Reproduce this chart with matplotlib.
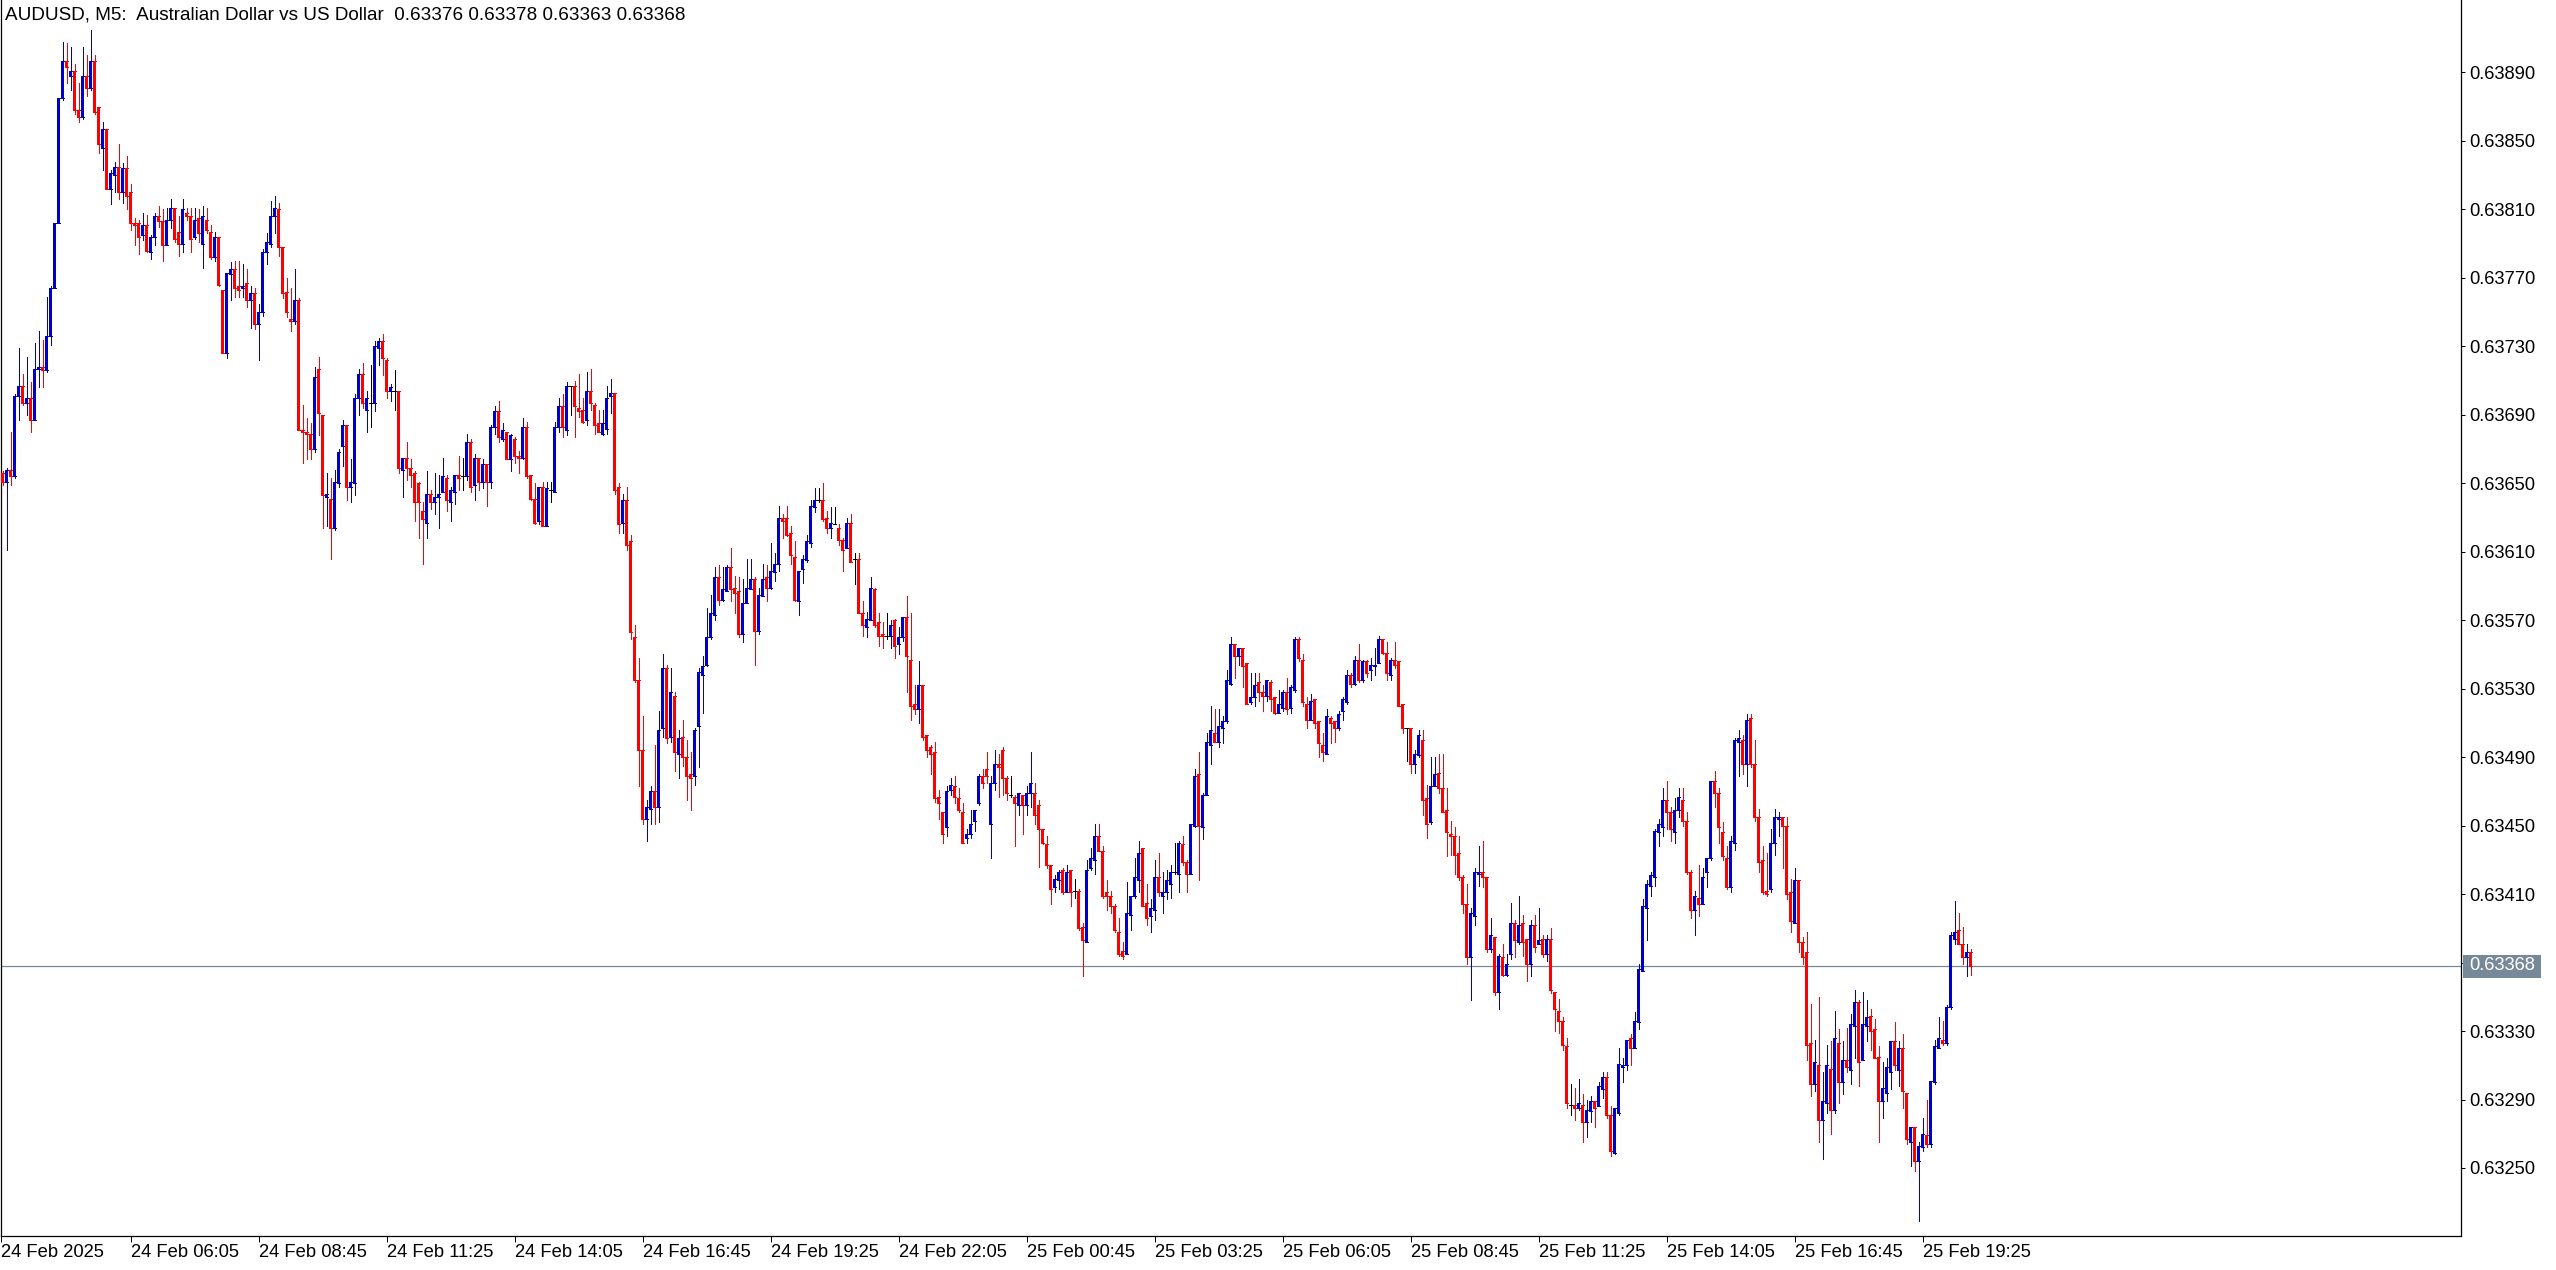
import numpy as np
import matplotlib.pyplot as plt
from matplotlib.patches import Rectangle

# AUDUSD M5 candles, prices as 1e-5 steps above 0.63000
opens = [
    656, 651, 658, 654, 701, 707, 697, 700, 687, 717, 718, 716, 736, 764, 802, 875, 897, 888, 891, 868,
    864, 888, 881, 897, 870, 846, 857, 822, 830, 835, 820, 834, 820, 802, 802, 795, 801, 785, 794, 806,
    803, 789, 804, 811, 797, 790, 808, 806, 794, 805, 790, 804, 797, 782, 794, 763, 726, 772, 775, 765,
    764, 767, 757, 761, 743, 750, 785, 790, 806, 810, 788, 762, 746, 745, 757, 681, 680, 679, 670, 717,
    690, 642, 641, 624, 650, 672, 684, 648, 650, 700, 714, 693, 697, 697, 729, 733, 722, 704, 704, 704,
    658, 665, 659, 656, 650, 634, 627, 644, 639, 642, 645, 653, 639, 645, 655, 654, 654, 674, 649, 665,
    651, 661, 651, 683, 692, 676, 680, 664, 676, 666, 665, 683, 655, 641, 628, 648, 625, 646, 645, 683,
    695, 681, 707, 707, 694, 693, 687, 704, 696, 685, 679, 682, 701, 703, 648, 627, 640, 616, 560, 535,
    494, 454, 460, 470, 461, 507, 542, 502, 526, 492, 502, 490, 480, 479, 508, 538, 544, 560, 573, 595,
    582, 587, 601, 589, 587, 562, 580, 588, 594, 564, 584, 595, 589, 598, 603, 630, 630, 621, 607, 581,
    600, 605, 615, 636, 640, 640, 630, 624, 626, 624, 617, 612, 627, 606, 606, 574, 566, 570, 588, 569,
    562, 561, 561, 570, 556, 560, 572, 547, 521, 518, 532, 503, 496, 493, 467, 458, 449, 471, 473, 466,
    458, 443, 445, 453, 463, 479, 483, 451, 475, 486, 494, 478, 468, 467, 462, 468, 462, 469, 469, 462,
    448, 439, 427, 414, 418, 424, 411, 424, 412, 412, 391, 382, 425, 430, 444, 435, 411, 409, 403, 388,
    377, 375, 398, 409, 418, 437, 405, 397, 401, 420, 409, 411, 416, 423, 422, 439, 429, 422, 450, 480,
    449, 468, 497, 504, 499, 507, 511, 533, 556, 549, 554, 545, 522, 525, 534, 528, 526, 534, 525, 516,
    519, 528, 519, 529, 559, 547, 521, 512, 524, 511, 497, 492, 513, 511, 507, 517, 522, 538, 533, 547,
    535, 546, 541, 543, 545, 559, 551, 538, 547, 546, 521, 507, 507, 486, 491, 500, 466, 452, 473, 481,
    472, 459, 445, 444, 434, 420, 404, 373, 397, 422, 423, 420, 378, 385, 353, 373, 363, 375, 393, 382,
    393, 384, 369, 392, 381, 384, 375, 384, 353, 342, 336, 321, 287, 287, 285, 287, 277, 283, 289, 286,
    296, 303, 281, 259, 282, 309, 310, 326, 320, 335, 365, 402, 415, 420, 446, 449, 465, 458, 446, 459,
    465, 453, 423, 401, 408, 404, 423, 431, 476, 469, 446, 431, 414, 440, 499, 500, 486, 513, 486, 455,
    430, 412, 413, 440, 454, 455, 450, 411, 393, 418, 382, 376, 323, 299, 310, 278, 288, 308, 284, 323,
    300, 313, 307, 333, 347, 313, 333, 339, 331, 315, 289, 294, 306, 324, 307, 320, 294, 265, 274, 254,
    262, 269, 264, 300, 320, 325, 323, 344, 384, 389, 381, 373, 376,
]
highs = [
    657, 659, 680, 702, 729, 714, 724, 709, 732, 739, 734, 759, 765, 802, 875, 908, 907, 905, 895, 884,
    905, 900, 915, 900, 870, 861, 857, 833, 838, 848, 837, 841, 825, 805, 804, 808, 807, 795, 808, 812,
    810, 811, 816, 811, 806, 816, 811, 811, 811, 810, 812, 811, 801, 797, 794, 763, 773, 779, 780, 780,
    778, 775, 765, 764, 755, 787, 796, 815, 818, 814, 788, 770, 764, 775, 758, 696, 688, 685, 718, 724,
    690, 656, 653, 658, 670, 687, 684, 664, 702, 717, 720, 704, 719, 733, 735, 737, 723, 708, 716, 704,
    665, 674, 664, 657, 651, 639, 657, 646, 656, 655, 665, 655, 648, 655, 666, 665, 679, 676, 667, 665,
    664, 661, 684, 695, 698, 685, 680, 679, 677, 669, 688, 686, 655, 650, 648, 651, 651, 651, 686, 700,
    702, 709, 707, 710, 714, 700, 715, 717, 697, 693, 693, 707, 711, 703, 650, 644, 648, 620, 567, 548,
    514, 465, 473, 497, 517, 550, 544, 542, 528, 506, 512, 500, 493, 507, 542, 549, 577, 585, 601, 602,
    601, 602, 612, 596, 595, 594, 606, 606, 595, 589, 603, 602, 615, 609, 637, 632, 637, 625, 616, 599,
    608, 620, 640, 647, 647, 650, 634, 636, 636, 626, 618, 630, 632, 609, 609, 581, 575, 595, 589, 574,
    569, 574, 570, 571, 566, 572, 584, 574, 532, 546, 532, 503, 497, 499, 471, 458, 473, 478, 479, 472,
    463, 448, 459, 459, 480, 483, 493, 479, 494, 492, 496, 479, 479, 468, 469, 468, 473, 493, 475, 465,
    448, 444, 427, 421, 424, 425, 427, 424, 419, 413, 393, 430, 437, 451, 451, 438, 418, 412, 404, 396,
    382, 417, 409, 431, 441, 437, 416, 407, 430, 434, 423, 424, 427, 440, 441, 444, 430, 451, 483, 493,
    469, 504, 520, 518, 518, 514, 541, 560, 556, 554, 554, 545, 539, 539, 539, 532, 535, 535, 525, 529,
    529, 536, 532, 560, 560, 550, 525, 527, 524, 511, 504, 518, 514, 511, 517, 525, 541, 539, 549, 556,
    547, 547, 548, 554, 561, 559, 557, 548, 557, 546, 521, 507, 507, 494, 506, 506, 474, 490, 490, 492,
    492, 472, 453, 449, 444, 421, 416, 402, 425, 438, 441, 420, 396, 385, 375, 381, 375, 405, 395, 409,
    398, 384, 395, 398, 402, 386, 386, 390, 353, 349, 338, 326, 299, 297, 302, 293, 290, 292, 289, 300,
    306, 306, 286, 285, 320, 314, 325, 328, 341, 369, 407, 418, 423, 448, 454, 472, 476, 461, 466, 472,
    472, 458, 424, 412, 427, 425, 431, 476, 482, 472, 452, 438, 444, 501, 506, 503, 515, 515, 500, 460,
    438, 434, 448, 460, 458, 455, 455, 419, 425, 418, 385, 388, 346, 325, 350, 306, 322, 324, 342, 331,
    324, 332, 340, 354, 348, 353, 348, 343, 337, 321, 312, 314, 324, 335, 324, 328, 294, 274, 274, 265,
    279, 290, 301, 325, 338, 336, 345, 388, 406, 399, 391, 381, 378,
]
lows = [
    649, 611, 649, 653, 687, 696, 690, 680, 687, 706, 706, 715, 731, 764, 802, 874, 884, 880, 866, 861,
    863, 876, 880, 866, 843, 833, 822, 813, 820, 816, 814, 810, 798, 789, 784, 792, 785, 781, 789, 800,
    780, 789, 799, 791, 783, 785, 804, 785, 793, 791, 776, 796, 781, 780, 765, 726, 723, 757, 759, 759,
    759, 753, 741, 740, 722, 748, 778, 788, 796, 783, 758, 747, 739, 743, 681, 662, 664, 664, 668, 678,
    624, 625, 606, 623, 648, 660, 640, 639, 643, 690, 694, 680, 683, 692, 719, 713, 700, 698, 693, 656,
    642, 652, 648, 628, 618, 603, 618, 635, 632, 624, 645, 634, 628, 638, 646, 646, 652, 645, 640, 646,
    647, 637, 647, 679, 674, 675, 664, 657, 662, 656, 664, 653, 640, 626, 626, 625, 625, 639, 645, 680,
    677, 678, 690, 677, 689, 685, 684, 693, 679, 680, 678, 679, 691, 644, 621, 621, 611, 559, 534, 473,
    451, 441, 451, 451, 452, 502, 498, 499, 482, 478, 485, 465, 459, 474, 484, 516, 543, 559, 570, 579,
    581, 587, 581, 574, 560, 557, 580, 588, 544, 562, 584, 581, 588, 593, 599, 618, 619, 603, 581, 573,
    592, 604, 613, 633, 639, 628, 621, 618, 626, 614, 599, 612, 604, 591, 574, 561, 560, 570, 566, 555,
    554, 559, 554, 548, 550, 558, 528, 512, 515, 510, 500, 490, 480, 464, 454, 440, 444, 468, 463, 458,
    440, 440, 443, 447, 462, 472, 475, 431, 471, 467, 468, 465, 467, 438, 456, 445, 456, 461, 451, 426,
    439, 425, 404, 411, 413, 410, 411, 403, 408, 389, 362, 382, 424, 422, 435, 408, 401, 399, 388, 374,
    372, 375, 389, 408, 411, 403, 392, 388, 395, 409, 399, 407, 408, 422, 411, 427, 411, 422, 449, 418,
    442, 468, 486, 499, 496, 498, 510, 532, 536, 544, 531, 521, 521, 520, 523, 517, 523, 517, 515, 516,
    517, 515, 516, 528, 546, 520, 507, 512, 507, 490, 488, 492, 498, 499, 506, 512, 521, 531, 532, 534,
    534, 537, 535, 538, 545, 550, 535, 535, 542, 520, 504, 488, 481, 481, 490, 456, 443, 451, 473, 469,
    458, 432, 433, 422, 418, 399, 369, 348, 392, 415, 414, 376, 376, 351, 343, 362, 362, 372, 373, 381,
    374, 359, 362, 376, 381, 373, 371, 352, 330, 329, 319, 285, 281, 278, 284, 265, 268, 277, 274, 286,
    291, 279, 257, 258, 281, 300, 307, 310, 320, 331, 365, 383, 409, 415, 438, 444, 448, 441, 440, 455,
    450, 422, 396, 386, 397, 404, 414, 430, 461, 440, 430, 413, 411, 436, 479, 480, 473, 484, 453, 423,
    410, 409, 411, 433, 444, 425, 407, 388, 393, 376, 369, 313, 292, 295, 265, 255, 282, 270, 282, 288,
    293, 306, 299, 314, 298, 313, 324, 319, 314, 265, 279, 289, 296, 307, 298, 285, 264, 251, 248, 219,
    260, 262, 262, 299, 320, 322, 322, 343, 381, 381, 369, 362, 363,
]
closes = [
    651, 658, 654, 701, 707, 697, 700, 687, 717, 718, 716, 736, 764, 802, 875, 897, 893, 891, 868, 864,
    888, 881, 897, 867, 848, 857, 822, 831, 835, 820, 834, 818, 802, 801, 794, 801, 786, 794, 806, 803,
    789, 804, 811, 793, 790, 810, 806, 793, 804, 796, 806, 798, 782, 794, 766, 726, 773, 775, 764, 763,
    765, 757, 761, 743, 750, 785, 791, 806, 811, 788, 761, 750, 745, 757, 681, 680, 679, 670, 712, 691,
    643, 644, 624, 651, 668, 684, 648, 651, 700, 714, 697, 700, 697, 730, 733, 723, 704, 706, 704, 659,
    665, 659, 655, 639, 639, 629, 644, 639, 642, 644, 654, 640, 646, 655, 653, 654, 674, 648, 665, 651,
    661, 651, 683, 692, 677, 681, 664, 678, 666, 665, 683, 654, 641, 627, 648, 625, 647, 646, 683, 695,
    683, 707, 707, 695, 692, 686, 704, 697, 684, 680, 685, 700, 703, 646, 626, 640, 614, 563, 535, 494,
    454, 461, 470, 461, 506, 542, 501, 528, 493, 501, 490, 479, 478, 506, 540, 543, 560, 574, 595, 582,
    588, 601, 588, 586, 562, 580, 589, 594, 564, 585, 594, 589, 599, 603, 630, 628, 620, 608, 582, 599,
    606, 616, 637, 640, 640, 629, 624, 627, 626, 617, 611, 627, 604, 606, 574, 567, 571, 589, 567, 561,
    561, 561, 567, 555, 560, 572, 549, 520, 518, 532, 502, 494, 492, 466, 463, 445, 470, 474, 467, 459,
    440, 445, 451, 459, 479, 475, 479, 475, 486, 484, 478, 469, 468, 463, 469, 462, 469, 475, 456, 448,
    440, 427, 413, 419, 423, 411, 423, 411, 412, 390, 383, 424, 431, 444, 435, 409, 409, 403, 389, 375,
    374, 399, 409, 420, 434, 403, 396, 402, 420, 411, 411, 418, 423, 423, 440, 429, 422, 451, 479, 450,
    468, 499, 506, 499, 508, 511, 535, 556, 549, 554, 543, 521, 525, 532, 528, 526, 535, 524, 516, 521,
    528, 518, 531, 559, 548, 522, 512, 523, 510, 498, 493, 514, 510, 507, 515, 524, 538, 533, 547, 535,
    546, 539, 544, 544, 559, 551, 539, 547, 544, 520, 507, 507, 486, 492, 503, 465, 451, 473, 480, 472,
    458, 446, 444, 433, 420, 404, 373, 399, 423, 423, 420, 378, 386, 353, 374, 363, 369, 393, 383, 392,
    382, 369, 392, 379, 383, 375, 384, 354, 343, 336, 322, 288, 287, 285, 288, 277, 284, 289, 285, 298,
    303, 281, 260, 285, 311, 310, 325, 320, 336, 366, 403, 416, 421, 447, 451, 465, 458, 448, 459, 467,
    453, 423, 401, 409, 404, 420, 431, 476, 469, 449, 432, 414, 441, 500, 501, 486, 512, 486, 455, 429,
    411, 410, 440, 455, 455, 450, 410, 394, 418, 382, 373, 322, 299, 312, 278, 289, 310, 284, 326, 300,
    313, 309, 334, 347, 312, 334, 338, 330, 314, 289, 297, 309, 324, 310, 320, 295, 267, 274, 254, 263,
    270, 264, 301, 321, 326, 323, 344, 386, 388, 381, 373, 376, 368,
]

time_labels = ['24 Feb 2025', '24 Feb 06:05', '24 Feb 08:45', '24 Feb 11:25', '24 Feb 14:05',
               '24 Feb 16:45', '24 Feb 19:25', '24 Feb 22:05', '25 Feb 00:45', '25 Feb 03:25',
               '25 Feb 06:05', '25 Feb 08:45', '25 Feb 11:25', '25 Feb 14:05', '25 Feb 16:45',
               '25 Feb 19:25']
label_bars = [0, 32, 64, 96, 128, 160, 192, 224, 256, 288, 320, 352, 384, 416, 448, 480]
price_ticks = [250, 290, 330, 370, 410, 450, 490, 530, 570, 610, 650, 690, 730, 770, 810, 850, 890]
bid = 368
title = 'AUDUSD, M5:  Australian Dollar vs US Dollar  0.63376 0.63378 0.63363 0.63368'

plt.rcParams['font.family'] = ['Liberation Sans', 'DejaVu Sans']

def px(v):
    return 0.63 + np.asarray(v) * 1e-5

W, H, DPI = 2556, 1270, 100
AX_L, AX_R, AX_T, AX_B = 1, 2461, 0, 1236
BID_Y, PX_PER_STEP = 966, 1.7117   # pixel row of the bid line, pixels per 0.00001
X0, STEP = 2.7, 4.0                # pixel x of first bar, bar spacing

fig = plt.figure(figsize=(W / DPI, H / DPI), dpi=DPI)
fig.patch.set_facecolor('white')
ax = fig.add_axes([AX_L / W, 1 - AX_B / H, (AX_R - AX_L) / W, (AX_B - AX_T) / H])

o = px(opens); h = px(highs); l = px(lows); c = px(closes)
x = np.arange(len(opens))
cols = np.where(c > o, '#0000CD', np.where(c < o, '#FF0000', '#000000'))

# wicks, bodies, min 1px body edge
ax.vlines(x, l, h, colors=cols, linewidth=0.72, antialiased=False, zorder=2)
ax.bar(x, np.abs(c - o), bottom=np.minimum(o, c), width=0.75, color=cols,
       linewidth=0, antialiased=False, zorder=3)
ax.hlines(c, x - 0.375, x + 0.375, colors=cols, linewidth=0.72, antialiased=False, zorder=3)
ax.hlines(o, x - 0.375, x + 0.375, colors=cols, linewidth=0.72, antialiased=False, zorder=3)

# bid line
ax.axhline(px(bid), color='#778899', linewidth=0.9, zorder=1)

ax.set_xlim((AX_L - X0) / STEP, (AX_R - X0) / STEP)
ax.set_ylim(px(bid) - (AX_B - BID_Y) / PX_PER_STEP * 1e-5,
            px(bid) + (BID_Y - AX_T) / PX_PER_STEP * 1e-5)

for s in ['left', 'right', 'bottom']:
    ax.spines[s].set_color('black')
    ax.spines[s].set_linewidth(0.9)
ax.spines['top'].set_visible(False)

ax.yaxis.tick_right()
ax.set_yticks(px(price_ticks))
ax.set_yticklabels([f'{v:.5f}' for v in px(price_ticks)])
ax.tick_params(axis='y', length=3, width=0.72, pad=3, labelsize=13.2, colors='black')

xt = [b if b > 0 else (AX_L - X0) / STEP + 0.1 for b in label_bars]
ax.set_xticks(xt)
ax.set_xticklabels(time_labels, ha='left')
ax.tick_params(axis='x', length=4, width=0.72, pad=2, labelsize=13.2, colors='black')

# bid price box on the axis
fig.add_artist(Rectangle((2463 / W, 1 - 978 / H), 78 / W, 23 / H, transform=fig.transFigure,
                         facecolor='#778899', edgecolor='none'))
fig.text(2469 / W, 1 - 966 / H, f'{px(bid):.5f}', color='white', fontsize=13.2, va='center', ha='left')

fig.text(5 / W, 1 - 15 / H, title, fontsize=13.6, va='center', ha='left', color='black')

fig.savefig('out.png', dpi=DPI)
